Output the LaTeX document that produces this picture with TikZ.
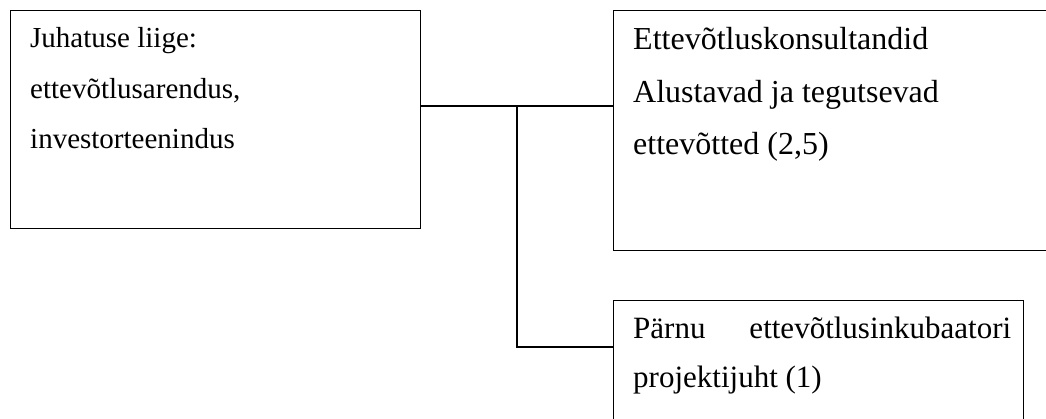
\documentclass[tikz,border=0pt]{standalone}
\usepackage{fontspec}
\setmainfont{Liberation Serif}
\begin{document}
\begin{tikzpicture}[x=1pt,y=-1pt,
  box/.style={draw,line width=1.2pt,rectangle,inner sep=0pt,anchor=north west},
  txt/.style={anchor=base west,inner sep=0pt,font=\fontsize{29}{35}\selectfont},
  txtb/.style={anchor=base west,inner sep=0pt,font=\fontsize{32}{38}\selectfont},
  txtc/.style={anchor=base west,inner sep=0pt,font=\fontsize{31}{37}\selectfont},
  conn/.style={line width=1.2pt}]
\useasboundingbox (0,0) rectangle (1046,418);
\clip (0,0) rectangle (1046,418);
\node[box,minimum width=410pt,minimum height=218pt] (b1) at (10,10) {};
\node[box,minimum width=445pt,minimum height=240pt] (b2) at (613,10) {};
\node[box,minimum width=410pt,minimum height=130pt] (b3) at (613,300) {};
\node[txt] (t11) at (30,47) {Juhatuse liige:};
\node[txt] (t12) at (30,98) {ettevõtlusarendus,};
\node[txt] (t13) at (30,148) {investorteenindus};
\node[txtb] (t21) at (633,49) {Ettevõtluskonsultandid};
\node[txtb] (t22) at (633,102) {Alustavad ja tegutsevad};
\node[txtb] (t23) at (633,154) {ettevõtted (2,5)};
\node[txtc] (t31) at (633,338) {\hbox to 378pt{Pärnu\hfil ettevõtlusinkubaatori}};
\node[txtc] (t32) at (633,387) {projektijuht (1)};
\coordinate (j) at (517,106);
\coordinate (k) at (517,347);
\draw[conn] (b1.east |- j) -- (j) -- (b2.west |- j);
\draw[conn] (j) -- (k) -- (b3.west |- k);
\end{tikzpicture}
\end{document}
